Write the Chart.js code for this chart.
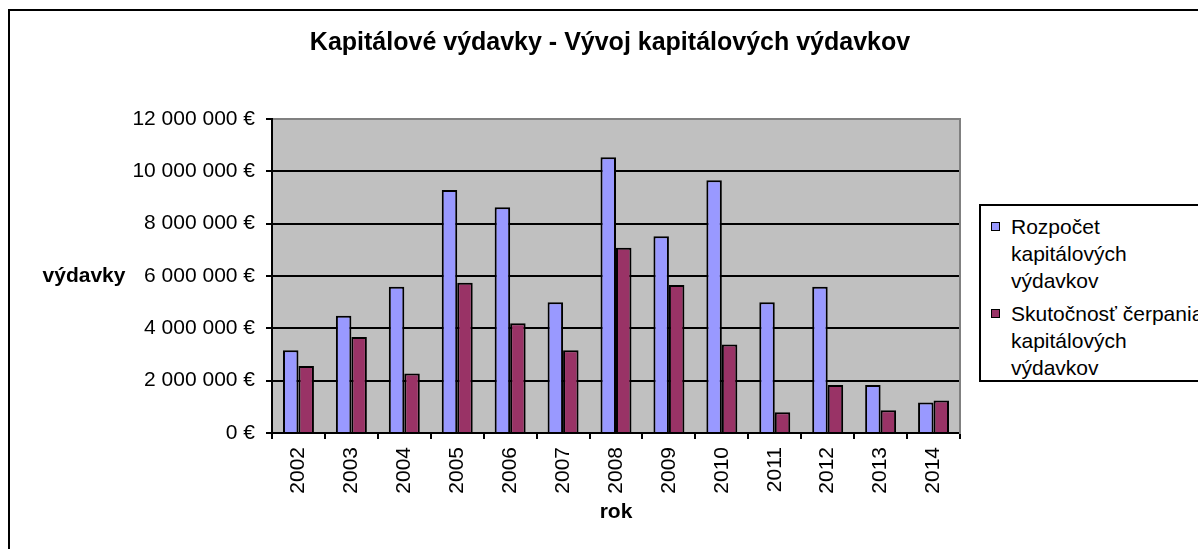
<!DOCTYPE html>
<html>
<head>
<meta charset="utf-8">
<title>Kapitálové výdavky</title>
<script src="https://cdn.jsdelivr.net/npm/chart.js@4/dist/chart.umd.min.js"></script>
<style>
    body { margin: 0; background: #fff; overflow: hidden; font-family: "Liberation Sans", Arial, sans-serif; }
    #wrap { position: relative; width: 1198px; height: 549px; overflow: hidden; }
    #frame { position: absolute; left: 8px; top: 9px; width: 1400px; height: 800px; border: 2px solid #000; pointer-events: none; }
    #legend { position: absolute; left: 979px; top: 204px; width: 260px; height: 178px; box-sizing: border-box;
              border: 2px solid #000; background: #fff; padding: 7px 0 0 10px; font-size: 21px; line-height: 27px; color: #000; }
    .entry { display: flex; align-items: flex-start; margin-bottom: 6px; }
    .swatch { width: 7px; height: 7px; border: 1px solid #000; margin-top: 9px; margin-right: 11px; flex: none; }
    .txt { width: 200px; }
</style>
</head>
<body>
<div id="wrap">
    <canvas id="chart" width="1198" height="549"></canvas>
    <div id="frame"></div>
    <div id="legend"></div>
</div>
<script>
// data
const years = ["2002", "2003", "2004", "2005", "2006", "2007", "2008", "2009", "2010", "2011", "2012", "2013", "2014"];
const rozpocet = [3160000, 4480000, 5590000, 9290000, 8630000, 5000000, 10540000, 7520000, 9660000, 5000000, 5590000, 1830000, 1170000];
const skutocnost = [2560000, 3670000, 2270000, 5740000, 4190000, 3160000, 7080000, 5660000, 3380000, 790000, 1830000, 870000, 1240000];

const seriesLabels = ["Rozpočet kapitálových výdavkov", "Skutočnosť čerpania kapitálových výdavkov"];
const seriesColors = ["#9999FF", "#993366"];

const yTicks = [0, 2000000, 4000000, 6000000, 8000000, 10000000, 12000000];

const FONT = "'Liberation Sans', Arial, sans-serif";

function formatEuro(v) {
    return String(v).replace(/\B(?=(\d{3})+(?!\d))/g, " ") + " €";
}

// grey plot area + horizontal axis title on the left
const plotBackground = {
    id: "plotBackground",
    beforeDraw(chart) {
        const { ctx, chartArea } = chart;
        ctx.save();
        ctx.fillStyle = "#C0C0C0";
        ctx.fillRect(chartArea.left, chartArea.top, chartArea.right - chartArea.left, chartArea.bottom - chartArea.top);
        ctx.restore();
    },
    afterDraw(chart) {
        const { ctx } = chart;
        const yScale = chart.scales.y;
        ctx.save();
        ctx.font = "bold 21px " + FONT;
        ctx.fillStyle = "#000";
        ctx.textAlign = "center";
        ctx.textBaseline = "middle";
        ctx.fillText("výdavky", 84, yScale.getPixelForValue(6000000));
        ctx.restore();
    }
};

const ctx = document.getElementById("chart").getContext("2d");

const chart = new Chart(ctx, {
    type: "bar",
    data: {
        labels: years,
        datasets: [
            { label: seriesLabels[0], data: rozpocet, backgroundColor: seriesColors[0], borderColor: "#000", borderWidth: 2,
              categoryPercentage: 0.585, barPercentage: 1.0 },
            { label: seriesLabels[1], data: skutocnost, backgroundColor: seriesColors[1], borderColor: "#000", borderWidth: 2,
              categoryPercentage: 0.585, barPercentage: 1.0 }
        ]
    },
    options: {
        responsive: false,
        animation: false,
        layout: { padding: { left: 22, right: 0, top: 0, bottom: 0 } },
        plugins: {
            legend: { display: false },
            tooltip: { enabled: false },
            title: {
                display: true,
                text: "Kapitálové výdavky - Vývoj kapitálových výdavkov",
                color: "#000",
                font: { family: FONT, size: 25, weight: "bold" },
                padding: { top: 28, bottom: 61 }
            }
        },
        scales: {
            x: {
                grid: { display: true, drawOnChartArea: false, color: "#000", tickLength: 6, lineWidth: 2 },
                border: { color: "#000", width: 2 },
                ticks: { color: "#000", font: { family: FONT, size: 21 }, minRotation: 90, maxRotation: 90, padding: 8 },
                title: { display: true, text: "rok", color: "#000", font: { family: FONT, size: 21, weight: "bold" },
                         padding: { top: 0, bottom: 24 } },
                afterFit(scale) { scale.height = 116; }
            },
            y: {
                min: 0,
                max: 12000000,
                afterBuildTicks(scale) { scale.ticks = yTicks.map(v => ({ value: v })); },
                grid: {
                    color: (c) => (c.tick && c.tick.value === 12000000 ? "#808080" : "#000"),
                    tickColor: "#000",
                    lineWidth: 2,
                    tickLength: 6
                },
                border: { color: "#000", width: 2 },
                ticks: { color: "#000", font: { family: FONT, size: 21 }, padding: 11, callback: (v) => formatEuro(v) },
                afterFit(scale) { scale.width = 250; }
            },
            // empty axis on the right, only reserves room for the legend and draws the grey plot edge
            y2: {
                position: "right",
                grid: { drawOnChartArea: false, drawTicks: false },
                border: { color: "#808080", width: 2 },
                ticks: { display: false },
                afterFit(scale) { scale.width = 238; }
            }
        }
    },
    plugins: [plotBackground]
});

// legend built by hand so the labels can wrap like in the original
const legendEl = document.getElementById("legend");
seriesLabels.forEach((label, i) => {
    const entry = document.createElement("div");
    entry.className = "entry";
    const sw = document.createElement("div");
    sw.className = "swatch";
    sw.style.background = seriesColors[i];
    const txt = document.createElement("div");
    txt.className = "txt";
    txt.textContent = label;
    entry.appendChild(sw);
    entry.appendChild(txt);
    legendEl.appendChild(entry);
});
</script>
</body>
</html>
